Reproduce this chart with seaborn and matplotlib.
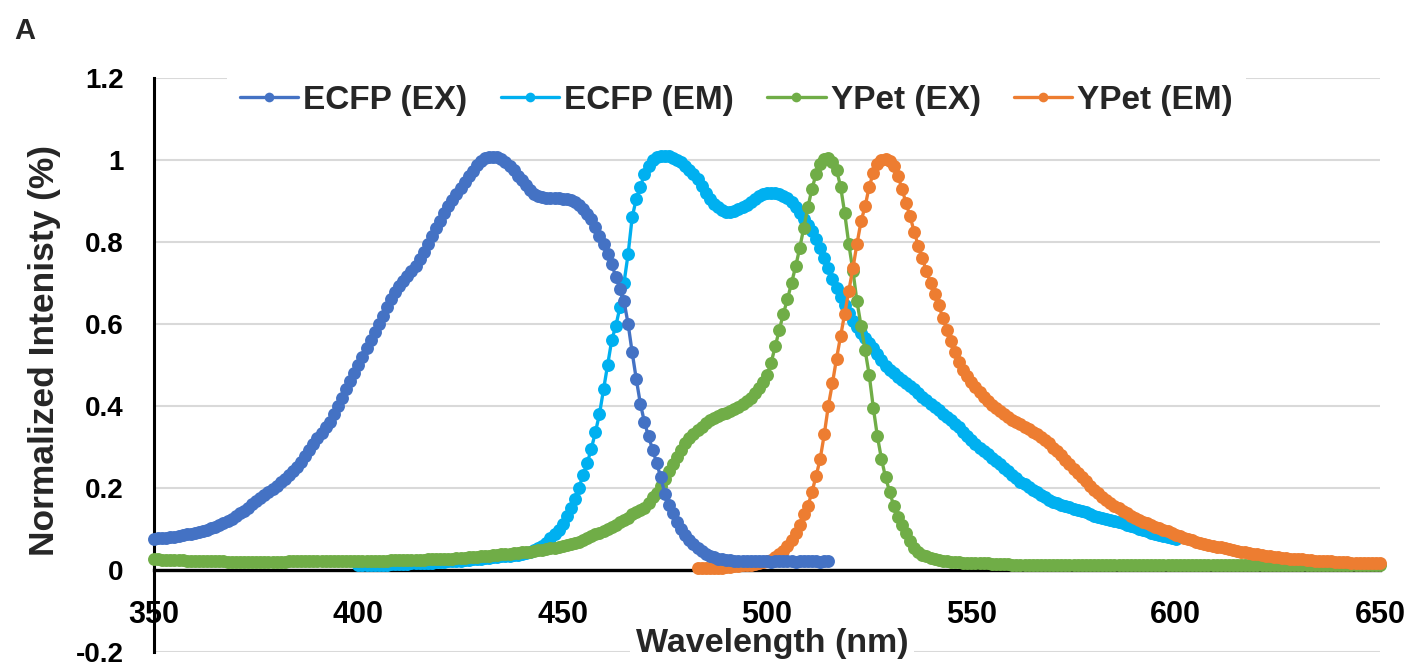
import numpy as np
import pandas as pd
import matplotlib
matplotlib.use("Agg")
import matplotlib.pyplot as plt
import seaborn as sns

# Normalized spectra, one value per nm starting at the given wavelength
ECFP_EX_START = 350
ECFP_EX = [
    0.075, 0.076, 0.077, 0.078, 0.079, 0.080, 0.082, 0.084, 0.086, 0.088,
    0.090, 0.092, 0.094, 0.097, 0.101, 0.105, 0.109, 0.114, 0.119, 0.124,
    0.130, 0.137, 0.144, 0.151, 0.159, 0.167, 0.174, 0.182, 0.189, 0.197,
    0.205, 0.213, 0.222, 0.231, 0.240, 0.250, 0.263, 0.278, 0.292, 0.306,
    0.320, 0.334, 0.347, 0.360, 0.380, 0.400, 0.420, 0.440, 0.460, 0.480,
    0.500, 0.520, 0.540, 0.560, 0.580, 0.600, 0.620, 0.640, 0.660, 0.678,
    0.692, 0.704, 0.716, 0.728, 0.742, 0.758, 0.775, 0.795, 0.815, 0.834,
    0.852, 0.870, 0.887, 0.902, 0.917, 0.931, 0.946, 0.960, 0.974, 0.987,
    0.998, 1.005, 1.008, 1.008, 1.006, 1.003, 0.996, 0.986, 0.975, 0.962,
    0.950, 0.938, 0.927, 0.918, 0.912, 0.909, 0.907, 0.906, 0.906, 0.906,
    0.905, 0.904, 0.903, 0.898, 0.890, 0.880, 0.869, 0.855, 0.836, 0.815,
    0.795, 0.770, 0.745, 0.715, 0.685, 0.655, 0.600, 0.530, 0.465, 0.405,
    0.360, 0.325, 0.293, 0.260, 0.225, 0.185, 0.158, 0.137, 0.117, 0.100,
    0.085, 0.073, 0.062, 0.053, 0.045, 0.039, 0.034, 0.030, 0.027, 0.025,
    0.024, 0.023, 0.022, 0.022, 0.021, 0.021, 0.020, 0.020, 0.021, 0.020,
    0.020, 0.019, 0.020, 0.020, 0.021, 0.020, 0.020, 0.019, 0.020, 0.020,
    0.021, 0.020, 0.020, 0.019, 0.020, 0.020,
]

ECFP_EM_START = 400
ECFP_EM = [
    0.010, 0.010, 0.011, 0.011, 0.011, 0.012, 0.012, 0.012, 0.013, 0.013,
    0.013, 0.014, 0.014, 0.015, 0.015, 0.016, 0.016, 0.017, 0.017, 0.018,
    0.018, 0.019, 0.020, 0.020, 0.021, 0.022, 0.023, 0.024, 0.025, 0.026,
    0.027, 0.028, 0.029, 0.030, 0.031, 0.032, 0.033, 0.034, 0.035, 0.036,
    0.038, 0.040, 0.043, 0.047, 0.052, 0.058, 0.066, 0.076, 0.086, 0.097,
    0.112, 0.130, 0.150, 0.173, 0.200, 0.232, 0.260, 0.295, 0.335, 0.380,
    0.440, 0.500, 0.560, 0.595, 0.640, 0.700, 0.770, 0.860, 0.905, 0.935,
    0.965, 0.985, 1.000, 1.008, 1.010, 1.010, 1.009, 1.005, 1.000, 0.995,
    0.985, 0.976, 0.966, 0.953, 0.937, 0.920, 0.905, 0.893, 0.884, 0.878,
    0.874, 0.873, 0.876, 0.880, 0.885, 0.891, 0.898, 0.905, 0.912, 0.917,
    0.919, 0.920, 0.920, 0.918, 0.913, 0.907, 0.898, 0.886, 0.871, 0.856,
    0.840, 0.826, 0.808, 0.786, 0.760, 0.736, 0.710, 0.687, 0.666, 0.647,
    0.627, 0.607, 0.591, 0.578, 0.566, 0.553, 0.540, 0.526, 0.512, 0.498,
    0.488, 0.479, 0.470, 0.462, 0.455, 0.447, 0.440, 0.430, 0.421, 0.413,
    0.405, 0.397, 0.389, 0.381, 0.373, 0.365, 0.356, 0.347, 0.337, 0.327,
    0.317, 0.307, 0.297, 0.289, 0.281, 0.273, 0.265, 0.257, 0.249, 0.241,
    0.232, 0.223, 0.215, 0.208, 0.202, 0.195, 0.189, 0.183, 0.177, 0.171,
    0.166, 0.162, 0.158, 0.155, 0.152, 0.149, 0.146, 0.143, 0.140, 0.136,
    0.132, 0.128, 0.125, 0.123, 0.121, 0.119, 0.116, 0.113, 0.110, 0.107,
    0.104, 0.100, 0.096, 0.093, 0.090, 0.087, 0.084, 0.081, 0.079, 0.077,
    0.075,
]

YPET_EX_START = 350
YPET_EX = [
    0.025, 0.025, 0.024, 0.024, 0.024, 0.023, 0.023, 0.023, 0.022, 0.022,
    0.022, 0.021, 0.021, 0.021, 0.020, 0.020, 0.020, 0.020, 0.019, 0.019,
    0.019, 0.019, 0.019, 0.019, 0.019, 0.019, 0.019, 0.019, 0.019, 0.019,
    0.019, 0.019, 0.019, 0.020, 0.020, 0.020, 0.020, 0.020, 0.020, 0.020,
    0.020, 0.020, 0.020, 0.020, 0.020, 0.021, 0.021, 0.021, 0.021, 0.021,
    0.021, 0.021, 0.021, 0.022, 0.022, 0.022, 0.022, 0.022, 0.023, 0.023,
    0.023, 0.023, 0.023, 0.024, 0.024, 0.024, 0.024, 0.025, 0.025, 0.025,
    0.026, 0.026, 0.027, 0.027, 0.028, 0.029, 0.029, 0.030, 0.031, 0.031,
    0.032, 0.033, 0.034, 0.035, 0.036, 0.037, 0.038, 0.039, 0.040, 0.041,
    0.042, 0.043, 0.044, 0.046, 0.047, 0.049, 0.050, 0.052, 0.053, 0.055,
    0.057, 0.059, 0.062, 0.065, 0.068, 0.072, 0.076, 0.081, 0.086, 0.090,
    0.095, 0.100, 0.105, 0.110, 0.115, 0.120, 0.127, 0.135, 0.140, 0.145,
    0.150, 0.162, 0.176, 0.188, 0.203, 0.222, 0.240, 0.258, 0.276, 0.293,
    0.308, 0.320, 0.330, 0.340, 0.348, 0.357, 0.364, 0.370, 0.375, 0.379,
    0.383, 0.387, 0.391, 0.397, 0.404, 0.412, 0.420, 0.430, 0.443, 0.458,
    0.475, 0.505, 0.545, 0.585, 0.625, 0.660, 0.700, 0.740, 0.785, 0.835,
    0.885, 0.930, 0.965, 0.990, 1.003, 1.005, 0.995, 0.976, 0.935, 0.870,
    0.795, 0.730, 0.655, 0.595, 0.535, 0.475, 0.395, 0.325, 0.270, 0.225,
    0.190, 0.155, 0.128, 0.110, 0.090, 0.070, 0.053, 0.042, 0.036, 0.032,
    0.029, 0.026, 0.024, 0.022, 0.020, 0.019, 0.018, 0.018, 0.017, 0.017,
    0.016, 0.016, 0.015, 0.015, 0.015, 0.014, 0.014, 0.014, 0.013, 0.013,
    0.012, 0.012, 0.012, 0.012, 0.011, 0.011, 0.011, 0.011, 0.011, 0.011,
    0.011, 0.010, 0.010, 0.011, 0.010, 0.010, 0.010, 0.011, 0.010, 0.010,
    0.010, 0.010, 0.011, 0.010, 0.010, 0.010, 0.010, 0.010, 0.011, 0.010,
    0.010, 0.010, 0.010, 0.010, 0.010, 0.011, 0.010, 0.010, 0.010, 0.010,
    0.010, 0.010, 0.010, 0.010, 0.011, 0.010, 0.010, 0.010, 0.010, 0.010,
    0.011, 0.010, 0.010, 0.010, 0.010, 0.010, 0.010, 0.011, 0.010, 0.010,
    0.010, 0.010, 0.010, 0.010, 0.010, 0.010, 0.011, 0.010, 0.010, 0.010,
    0.010, 0.010, 0.010, 0.010, 0.010, 0.010, 0.010, 0.011, 0.010, 0.010,
    0.010, 0.010, 0.010, 0.010, 0.011, 0.010, 0.010, 0.010, 0.010, 0.010,
    0.010,
]

YPET_EM_START = 483
YPET_EM = [
    0.003, 0.003, 0.003, 0.004, 0.004, 0.005, 0.005,
    0.006, 0.007, 0.008, 0.009, 0.010, 0.011, 0.012, 0.014, 0.016, 0.018,
    0.020, 0.024, 0.030, 0.037, 0.046, 0.058, 0.072, 0.090, 0.110, 0.135,
    0.155, 0.190, 0.228, 0.270, 0.330, 0.400, 0.455, 0.515, 0.570, 0.625,
    0.680, 0.735, 0.795, 0.850, 0.887, 0.935, 0.968, 0.990, 1.000, 1.003,
    0.998, 0.986, 0.962, 0.930, 0.895, 0.862, 0.825, 0.790, 0.760, 0.728,
    0.700, 0.672, 0.645, 0.615, 0.585, 0.557, 0.530, 0.507, 0.488, 0.472,
    0.458, 0.445, 0.434, 0.422, 0.412, 0.402, 0.394, 0.386, 0.379, 0.372,
    0.366, 0.361, 0.355, 0.349, 0.342, 0.336, 0.330, 0.323, 0.316, 0.308,
    0.298, 0.289, 0.279, 0.268, 0.257, 0.246, 0.236, 0.226, 0.216, 0.205,
    0.195, 0.186, 0.178, 0.170, 0.163, 0.156, 0.150, 0.144, 0.138, 0.132,
    0.127, 0.122, 0.117, 0.113, 0.109, 0.105, 0.101, 0.097, 0.093, 0.089,
    0.085, 0.081, 0.077, 0.074, 0.071, 0.068, 0.065, 0.063, 0.060, 0.058,
    0.056, 0.054, 0.052, 0.050, 0.048, 0.046, 0.044, 0.042, 0.040, 0.038,
    0.037, 0.035, 0.034, 0.032, 0.031, 0.030, 0.029, 0.028, 0.027, 0.026,
    0.025, 0.025, 0.024, 0.023, 0.022, 0.022, 0.021, 0.020, 0.020, 0.019,
    0.019, 0.018, 0.018, 0.017, 0.017, 0.017, 0.016, 0.016, 0.016, 0.016,
    0.016,
]

SERIES_NAMES = ["ECFP (EX)", "ECFP (EM)", "YPet (EX)", "YPet (EM)"]
SERIES_COLORS = ["#4472C4", "#00B0F0", "#70AD47", "#ED7D31"]
X_TICKS = [350, 400, 450, 500, 550, 600, 650]
Y_TICKS = [-0.2, 0.0, 0.2, 0.4, 0.6, 0.8, 1.0, 1.2]
Y_TICK_LABELS = ["-0.2", "0", "0.2", "0.4", "0.6", "0.8", "1", "1.2"]

sns.set_style("white")
plt.rcParams["font.family"] = ["Liberation Sans", "DejaVu Sans"]
plt.rcParams["font.weight"] = "bold"
plt.rcParams["axes.labelweight"] = "bold"

starts = [ECFP_EX_START, ECFP_EM_START, YPET_EX_START, YPET_EM_START]
values = [ECFP_EX, ECFP_EM, YPET_EX, YPET_EM]
frames = []
for name, start, vals in zip(SERIES_NAMES, starts, values):
    frames.append(pd.DataFrame({
        "Wavelength": np.arange(start, start + len(vals)),
        "Intensity": vals,
        "Series": name,
    }))
df = pd.concat(frames, ignore_index=True)

fig = plt.figure(figsize=(14.13, 6.68), dpi=100)
ax = fig.add_axes([0.109, 0.0247, 0.8677, 0.8585])

# ECFP excitation sits on top of the other traces
zorders = [6, 3, 4, 5]
for name, color, z in zip(SERIES_NAMES, SERIES_COLORS, zorders):
    sub = df[df["Series"] == name]
    sns.lineplot(data=sub, x="Wavelength", y="Intensity", ax=ax,
                 color=color, marker="o", markersize=9.3,
                 markeredgewidth=0, linewidth=2.4, label=name,
                 errorbar=None, zorder=z, clip_on=False)

ax.set_xlim(350, 650)
ax.set_ylim(-0.2, 1.2)
ax.set_xticks(X_TICKS)
ax.set_yticks(Y_TICKS)
ax.set_yticklabels(Y_TICK_LABELS)

ax.set_axisbelow(True)
ax.yaxis.grid(True, color="#D9D9D9", linewidth=1.5)
ax.xaxis.grid(False)

for side in ["top", "right"]:
    ax.spines[side].set_visible(False)
ax.spines["bottom"].set_position(("data", 0))
ax.spines["bottom"].set_color("black")
ax.spines["bottom"].set_linewidth(2.4)
ax.spines["left"].set_color("black")
ax.spines["left"].set_linewidth(2.2)

ax.tick_params(axis="y", direction="in", length=8, width=2,
               pad=22, labelsize=20, colors="black")
ax.tick_params(axis="x", direction="out", length=5, width=2,
               pad=17, labelsize=22, colors="black")

ax.set_xlabel("")
ax.set_ylabel("Normalized Intenisty (%)", fontsize=25.5, fontweight="bold")
ax.yaxis.set_label_coords(-0.0897, 0.524)
ax.yaxis.label.set_va("center")

ax.text(0.504, 0.0135, "Wavelength (nm)", transform=ax.transAxes,
        ha="center", va="center", fontsize=24.5, fontweight="bold",
        zorder=10,
        bbox=dict(facecolor="white", edgecolor="none", pad=4))

leg = ax.legend(loc="center", bbox_to_anchor=(0.475, 0.9607), ncol=4,
                frameon=True, fancybox=False, fontsize=24,
                handlelength=1.75, handletextpad=0.15, columnspacing=1.0,
                borderpad=0.4, facecolor="white", edgecolor="none",
                framealpha=1, markerscale=0.75)

fig.text(0.0173, 0.9536, "A", ha="center", va="center",
         fontsize=21, fontweight="bold")

fig.savefig("out.png", dpi=100, facecolor="white")
